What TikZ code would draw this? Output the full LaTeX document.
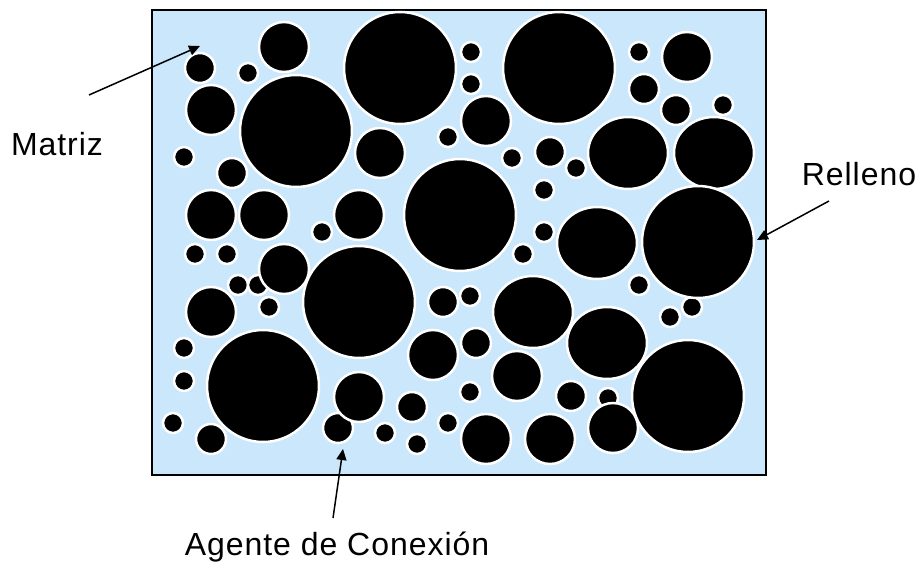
\documentclass[tikz,border=0pt]{standalone}
\usepackage{fontspec}
\setmainfont{Liberation Sans}
\usetikzlibrary{arrows.meta}
\definecolor{matriz}{RGB}{202,231,252}
\begin{document}
\begin{tikzpicture}[>={Triangle[length=11pt,width=10pt]},x=1pt,y=-1pt,
    grano/.style={fill=black,draw=white,line width=2.5pt},
    rotulo/.style={anchor=base,font=\fontsize{32}{36}\addfontfeature{LetterSpace=3}\selectfont}]
\useasboundingbox (0,0) rectangle (918,562);
\draw[fill=matriz,line width=1.5pt](152,10)rectangle(766,475);
% granos de relleno
\foreach \x/\y in {248/73,184/157,448/137,471/52,471/84,639/52,723/105,512/158,576/168,544/190,
    544/232,322/232,195/254,227/254,238/285,258/285,269/307,523/254,639/285,692/307,670/317,
    470/296,184/348,184/381,173/423,385/433,417/444,448/423,470/392,608/398}
    \draw[grano](\x,\y)circle(10pt);
\foreach \x/\y in {200/68,232/173,550/152,644/89,676/110,443/302,476/343,412/407,211/439,
    338/428,571/396}
    \draw[grano](\x,\y)circle(15pt);
\foreach \x/\y in {284/47,211/110,380/153,211/215,264/215,359/215,486/121,687/57,284/269,
    211/312,433/355,359/397,517/376,613/428,486/439,550/439}
    \draw[grano](\x,\y)circle(25pt);
\foreach \x/\y in {628/153,714/153,597/243,533/312,607/343}
    \draw[grano](\x,\y)ellipse(40pt and 36pt);
\foreach \x/\y in {400/68,559/68,296/131,460/215,698/242,359/302,263/386,688/396}
    \draw[grano](\x,\y)circle(56pt);
% rotulos
\node[rotulo](matriz) at (57,155){Matriz};
\node[rotulo](relleno) at (859,185){Relleno};
\node[rotulo](agente) at (337,555){Agente de Conexión};
\coordinate (m0) at (89,95); \coordinate (m1) at (200,46);
\coordinate (r0) at (829,201); \coordinate (r1) at (757,240);
\coordinate (a0) at (333,518); \coordinate (a1) at (343,449);
\draw[->,line width=1.5pt](m0)--(m1);
\draw[->,line width=1.5pt](r0)--(r1);
\draw[->,line width=1.5pt](a0)--(a1);
\end{tikzpicture}
\end{document}
